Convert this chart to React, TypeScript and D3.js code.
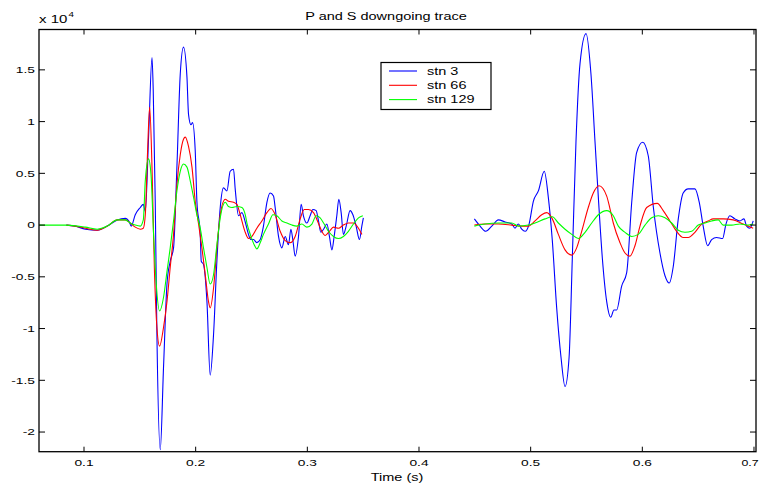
import React from "react";
import * as d3 from "d3";

// ---- data (time in s, amplitude in counts) ----
const SERIES_NAMES = ["stn 3", "stn 66", "stn 129"];
const SERIES_COLORS = ["#0000ff", "#ff0000", "#00ff00"];

const stn3_P: [number, number][] = [
  [0.0842, 0], [0.0922, -100], [0.1012, -400], [0.1119, -500], [0.1209, -100], [0.1298, 500],
  [0.1370, 650], [0.1406, 300], [0.1423, -100], [0.1459, 1000], [0.1504, 1700], [0.1531, 2000],
  [0.1549, 1300], [0.1580, 9000], [0.1609, 16200], [0.1620, 13000], [0.1638, 2300], [0.1653, -10600],
  [0.1683, -21700], [0.1712, -13800], [0.1743, -5700], [0.1772, -3500], [0.1802, -2200], [0.1832, 5600],
  [0.1862, 14600], [0.1891, 17200], [0.1922, 14300], [0.1936, 10700], [0.1958, 9700], [0.1972, 9900],
  [0.1996, 7200], [0.2011, 2300], [0.2041, -900], [0.2050, -3500], [0.2070, -3800], [0.2101, -7400],
  [0.2130, -14500], [0.2160, -10600], [0.2190, -3500], [0.2220, 1700], [0.2249, 3600], [0.2280, 3300],
  [0.2309, 5200], [0.2339, 5400], [0.2354, 3500], [0.2384, 900], [0.2414, 1200], [0.2444, 300],
  [0.2473, -900], [0.2495, -1400], [0.2518, -1400], [0.2548, -1700], [0.2578, -1400], [0.2607, -100],
  [0.2638, 2200], [0.2667, 3100], [0.2697, 2800], [0.2712, 1700], [0.2742, -1100], [0.2772, -2200],
  [0.2802, -1100], [0.2831, -1900], [0.2853, -400], [0.2871, -1500], [0.2891, -3000], [0.2921, -1100],
  [0.2945, 2000], [0.2965, 900], [0.2996, 200], [0.3025, 900], [0.3050, 1500], [0.3079, 1400],
  [0.3100, 400], [0.3121, -700], [0.3145, -400], [0.3175, 100], [0.3198, -1100], [0.3220, -2400],
  [0.3240, -1100], [0.3264, 900], [0.3282, 2500], [0.3303, 1200], [0.3323, -900], [0.3348, -100],
  [0.3383, 1400], [0.3408, 1000], [0.3437, -100], [0.3467, -1400], [0.3488, -100], [0.3502, 700],
];

const stn66_P: [number, number][] = [
  [0.0842, 0], [0.0922, -100], [0.1012, -300], [0.1119, -500], [0.1209, -100], [0.1298, 500],
  [0.1370, 500], [0.1414, 200], [0.1459, -200], [0.1504, -400], [0.1531, -300], [0.1549, 1000],
  [0.1569, 7000], [0.1588, 11400], [0.1609, 5600], [0.1630, -4100], [0.1653, -9900], [0.1677, -11700],
  [0.1712, -9900], [0.1743, -7400], [0.1772, -4100], [0.1802, -900], [0.1832, 3900], [0.1862, 6800],
  [0.1891, 8300], [0.1907, 8500], [0.1936, 7600], [0.1967, 5600], [0.1996, 2300], [0.2026, 100],
  [0.2056, -2200], [0.2086, -4800], [0.2115, -7400], [0.2130, -8000], [0.2160, -6100], [0.2190, -2200],
  [0.2220, 1000], [0.2265, 2500], [0.2294, 2300], [0.2339, 2200], [0.2369, 2000], [0.2399, 1000],
  [0.2444, -700], [0.2473, -1300], [0.2504, -1100], [0.2548, -300], [0.2593, 400], [0.2638, 1200],
  [0.2674, 1600], [0.2712, 1000], [0.2757, -600], [0.2802, -1500], [0.2846, -1700], [0.2891, -1100],
  [0.2936, 600], [0.2972, 1500], [0.3010, 1500], [0.3055, 1200], [0.3091, 400], [0.3130, -600],
  [0.3160, -1000], [0.3198, -600], [0.3234, -200], [0.3279, -300], [0.3323, 0], [0.3368, 200],
  [0.3413, 200], [0.3458, -300], [0.3488, -900],
];

const stn129_P: [number, number][] = [
  [0.0600, 0], [0.0842, 0], [0.1012, -200], [0.1119, -400], [0.1209, -100], [0.1298, 500],
  [0.1370, 500], [0.1414, 200], [0.1459, 0], [0.1504, -100], [0.1531, 500], [0.1549, 4300],
  [0.1578, 6400], [0.1600, 4900], [0.1623, -900], [0.1647, -5700], [0.1677, -8300], [0.1712, -7000],
  [0.1743, -4500], [0.1772, -2200], [0.1802, 400], [0.1832, 3300], [0.1862, 5200], [0.1891, 5900],
  [0.1922, 5600], [0.1951, 4300], [0.1981, 2700], [0.2011, 1000], [0.2041, -300], [0.2070, -2200],
  [0.2101, -4100], [0.2130, -5700], [0.2160, -4800], [0.2190, -1900], [0.2220, 700], [0.2265, 2200],
  [0.2294, 1800], [0.2325, 1700], [0.2369, 1800], [0.2414, 1700], [0.2444, 1000], [0.2459, 200],
  [0.2489, -900], [0.2524, -1900], [0.2548, -2300], [0.2578, -1700], [0.2607, -900], [0.2652, 100],
  [0.2692, 1000], [0.2727, 900], [0.2772, 400], [0.2817, 200], [0.2862, 0], [0.2906, -100],
  [0.2951, 100], [0.2996, -200], [0.3041, 100], [0.3079, 900], [0.3115, 700], [0.3151, 100],
  [0.3189, -600], [0.3234, -1100], [0.3279, -1300], [0.3323, -1100], [0.3368, -600], [0.3413, 100],
  [0.3458, 700], [0.3497, 900],
];

const stn3_S: [number, number][] = [
  [0.4496, 600], [0.4547, -100], [0.4598, -600], [0.4652, -100], [0.4711, 500], [0.4771, 300],
  [0.4831, 100], [0.4860, -300], [0.4890, 100], [0.4920, -400], [0.4950, -600], [0.4986, 100],
  [0.5024, 2300], [0.5069, 3300], [0.5122, 5200], [0.5158, 2700], [0.5194, -1500], [0.5233, -8000],
  [0.5272, -12800], [0.5308, -15600], [0.5344, -12800], [0.5373, -3200], [0.5406, 8100], [0.5442, 15600],
  [0.5496, 18500], [0.5540, 14600], [0.5576, 8100], [0.5606, 2700], [0.5642, -3200], [0.5681, -7400],
  [0.5717, -8900], [0.5746, -8200], [0.5770, -8200], [0.5815, -5900], [0.5860, -4600], [0.5905, 2200],
  [0.5949, 7000], [0.6003, 8000], [0.6053, 6700], [0.6098, 1800], [0.6158, -2700], [0.6203, -4900],
  [0.6241, -5600], [0.6277, -4000], [0.6322, 600], [0.6366, 3100], [0.6411, 3500], [0.6471, 3500],
  [0.6510, 2200], [0.6545, -100], [0.6585, -2000], [0.6621, -1400], [0.6665, -1200], [0.6719, -1300],
  [0.6749, 100], [0.6784, 900], [0.6829, 600], [0.6874, 400], [0.6910, 600], [0.6934, -100],
  [0.6963, -300], [0.6993, 400],
];

const stn66_S: [number, number][] = [
  [0.4496, 0], [0.4592, 100], [0.4711, 100], [0.4831, 0], [0.4920, -100], [0.4979, -100],
  [0.5039, 400], [0.5099, 1000], [0.5144, 1200], [0.5194, 600], [0.5248, -900], [0.5308, -2400],
  [0.5368, -2900], [0.5412, -2200], [0.5457, -600], [0.5516, 1700], [0.5561, 3100], [0.5612, 3800],
  [0.5681, 2800], [0.5710, 1600], [0.5740, 200], [0.5800, -1700], [0.5845, -2700], [0.5889, -3000],
  [0.5934, -2000], [0.5979, -100], [0.6039, 1700], [0.6134, 2100], [0.6187, 1400], [0.6247, 400],
  [0.6307, -600], [0.6366, -1200], [0.6411, -1200], [0.6471, -700], [0.6531, 100], [0.6590, 400],
  [0.6635, 600], [0.6724, 600], [0.6814, 500], [0.6903, 100], [0.6993, -300],
];

const stn129_S: [number, number][] = [
  [0.4496, -100], [0.4592, 100], [0.4711, 200], [0.4831, 200], [0.4890, -100], [0.4979, 0],
  [0.5039, 200], [0.5129, 600], [0.5194, 800], [0.5248, 200], [0.5308, -400], [0.5368, -900],
  [0.5427, -1300], [0.5487, -700], [0.5547, 200], [0.5606, 1000], [0.5681, 1400], [0.5740, 900],
  [0.5785, -100], [0.5845, -700], [0.5905, -1100], [0.5964, -900], [0.6024, 0], [0.6084, 700],
  [0.6143, 900], [0.6203, 700], [0.6263, 200], [0.6322, -500], [0.6382, -700], [0.6442, -600],
  [0.6501, 0], [0.6561, 200], [0.6621, 400], [0.6680, 500], [0.6724, 0], [0.6800, 0],
  [0.6874, 100], [0.6948, 0], [0.6993, 100],
];

const SERIES_SEGMENTS = [
  [stn3_P, stn3_S],
  [stn66_P, stn66_S],
  [stn129_P, stn129_S],
];

const X_TICKS = [0.1, 0.2, 0.3, 0.4, 0.5, 0.6, 0.7];
const Y_TICKS = [-20000, -15000, -10000, -5000, 0, 5000, 10000, 15000];
const X_DOMAIN: [number, number] = [0.0597, 0.7018];
const Y_DOMAIN: [number, number] = [-21900, 18900];
const TITLE = "P and S downgoing trace";
const X_LABEL = "Time (s)";

// ---- layout ----
const W = 761;
const H = 485;
const L = 39;
const R = 756;
const T = 29.5;
const B = 451.7;
const SX = 1.45;
const FONT = "'Liberation Sans', Arial, Helvetica, sans-serif";

function SText(props: { x: number; y: number; size: number; anchor?: string; children: React.ReactNode; sx?: number }) {
  const { x, y, size, anchor = "start", children, sx = SX } = props;
  return (
    <text
      transform={`translate(${x},${y}) scale(${sx},1)`}
      textAnchor={anchor}
      fontSize={size}
      fontFamily={FONT}
      fill="#000"
    >
      {children}
    </text>
  );
}

export default function App() {
  const x = d3.scaleLinear().domain(X_DOMAIN).range([L, R]);
  const y = d3.scaleLinear().domain(Y_DOMAIN).range([B, T]);
  const line = d3
    .line<[number, number]>()
    .x((d) => x(d[0]))
    .y((d) => y(d[1]))
    .curve(d3.curveMonotoneX);

  const fmtY = (v: number) => String(+(v / 1e4).toFixed(1));

  const legendX = 381;
  const legendY = 62.5;
  const legendW = 110;
  const legendH = 47;

  return (
    <svg
      width={W}
      height={H}
      viewBox={`0 0 ${W} ${H}`}
      style={{ position: "absolute", left: 0, top: 0, background: "#fff" }}
    >
      <rect x={0} y={0} width={W} height={H} fill="#fff" />
      <defs>
        <clipPath id="plotclip">
          <rect x={L} y={T} width={R - L} height={B - T} />
        </clipPath>
      </defs>

      <g clipPath="url(#plotclip)" fill="none" strokeWidth={1.1} strokeLinejoin="round">
        {SERIES_SEGMENTS.map((segs, i) =>
          segs.map((seg, j) => (
            <path key={`${i}-${j}`} d={line(seg) || ""} stroke={SERIES_COLORS[i]} />
          ))
        )}
      </g>

      {/* axes box */}
      <rect x={L} y={T} width={R - L} height={B - T} fill="none" stroke="#000" strokeWidth={1.3} />

      {/* x ticks */}
      {X_TICKS.map((t) => (
        <g key={`xt${t}`}>
          <line x1={x(t)} x2={x(t)} y1={B} y2={B - 5} stroke="#000" strokeWidth={1} />
          <line x1={x(t)} x2={x(t)} y1={T} y2={T + 5} stroke="#000" strokeWidth={1} />
          <SText x={Math.min(x(t), 750)} y={B + 14} size={9.5} anchor="middle" sx={t === 0.7 ? 1.3 : SX}>
            {String(t)}
          </SText>
        </g>
      ))}

      {/* y ticks */}
      {Y_TICKS.map((v) => (
        <g key={`yt${v}`}>
          <line x1={L} x2={L + 6} y1={y(v)} y2={y(v)} stroke="#000" strokeWidth={1} />
          <line x1={R} x2={R - 6} y1={y(v)} y2={y(v)} stroke="#000" strokeWidth={1} />
          <SText x={L - 4} y={y(v) + 3.4} size={9.5} anchor="end">
            {fmtY(v)}
          </SText>
        </g>
      ))}

      {/* exponent label */}
      <SText x={39} y={23.3} size={10} sx={1.5}>
        x 10
      </SText>
      <SText x={68.5} y={17} size={7} sx={1.4}>
        4
      </SText>

      {/* title */}
      <SText x={386} y={20} size={10} anchor="middle">
        {TITLE}
      </SText>

      {/* x label */}
      <SText x={397} y={480.5} size={10} anchor="middle">
        {X_LABEL}
      </SText>

      {/* legend */}
      <rect x={legendX} y={legendY} width={legendW} height={legendH} fill="#fff" stroke="#000" strokeWidth={1.2} />
      {SERIES_NAMES.map((name, i) => {
        const ly = legendY + 8.5 + i * 14.3;
        return (
          <g key={name}>
            <line x1={389} x2={417} y1={ly} y2={ly} stroke={SERIES_COLORS[i]} strokeWidth={1.1} />
            <SText x={427} y={ly + 3.8} size={10}>
              {name}
            </SText>
          </g>
        );
      })}
    </svg>
  );
}
